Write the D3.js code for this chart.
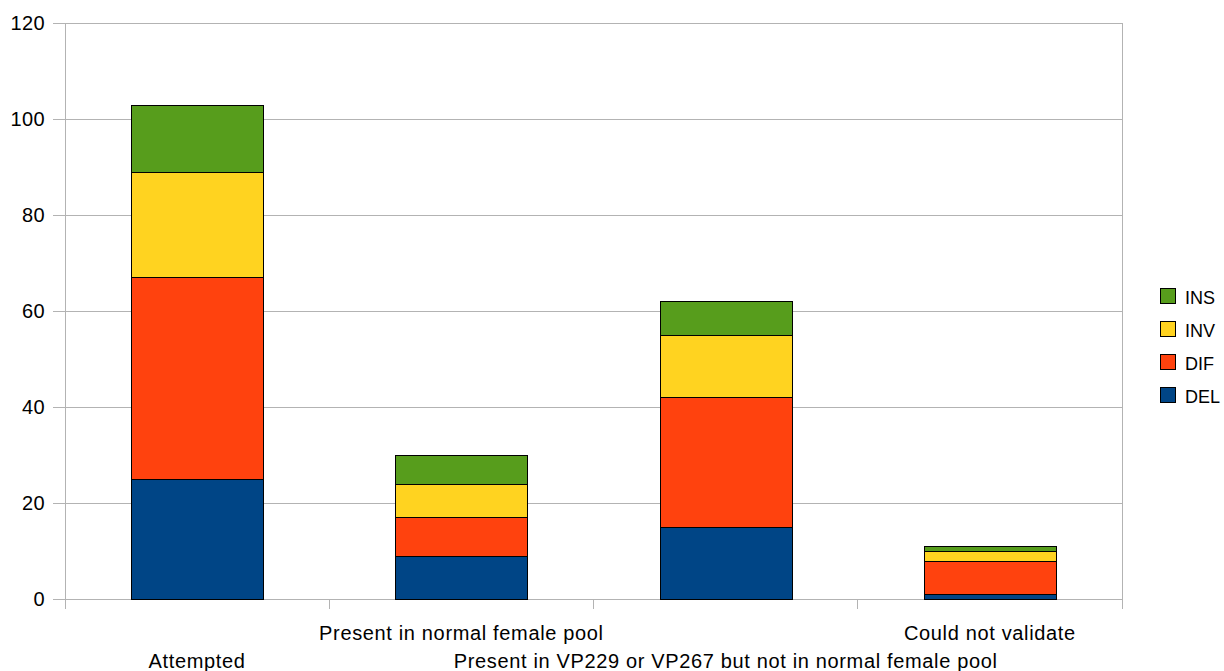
<!DOCTYPE html>
<html>
<head>
<meta charset="utf-8">
<script src="https://cdnjs.cloudflare.com/ajax/libs/d3/7.8.5/d3.min.js"></script>
<style>
  html, body { margin: 0; padding: 0; background: #fff; }
  svg text { font-family: "Liberation Sans", Arial, sans-serif; fill: #000; }
</style>
</head>
<body>
<svg id="chart" width="1224" height="671"></svg>
<script>
// Structural-variant validation counts per outcome, stacked by type
const categories = ["Attempted", "Present in normal female pool", "Present in VP229 or VP267 but not in normal female pool", "Could not validate"];
const seriesNames = ["DEL", "DIF", "INV", "INS"];
const DEL = [25, 9, 15, 1];
const DIF = [42, 8, 27, 7];
const INV = [22, 7, 13, 2];
const INS = [14, 6, 7, 1];
const yTicks = [0, 20, 40, 60, 80, 100, 120];
const colors = { DEL: "#004586", DIF: "#ff420e", INV: "#ffd320", INS: "#579d1c" };

const seriesValues = { DEL, DIF, INV, INS };
const table = categories.map((c, i) => {
  const row = { category: c };
  seriesNames.forEach(s => { row[s] = seriesValues[s][i]; });
  return row;
});

const svg = d3.select("#chart");
const plot = { left: 65, right: 1122, top: 23, bottom: 599 };

const x = d3.scaleBand()
  .domain(categories)
  .range([plot.left, plot.right])
  .paddingInner(0.5)
  .paddingOuter(0.25);

const y = d3.scaleLinear()
  .domain([0, 120])
  .range([plot.bottom, plot.top]);

const grey = "#b3b3b3";

// horizontal grid lines
svg.append("g")
  .selectAll("line")
  .data(yTicks)
  .join("line")
  .attr("x1", plot.left).attr("x2", plot.right)
  .attr("y1", d => y(d)).attr("y2", d => y(d))
  .attr("stroke", grey).attr("stroke-width", 1)
  .attr("shape-rendering", "crispEdges");

// right side of the plot frame
svg.append("line")
  .attr("x1", plot.right).attr("x2", plot.right)
  .attr("y1", plot.top).attr("y2", plot.bottom)
  .attr("stroke", grey).attr("shape-rendering", "crispEdges");

// y axis
const yAxis = svg.append("g")
  .attr("transform", `translate(${plot.left},0)`)
  .call(d3.axisLeft(y).tickValues(yTicks).tickSize(12).tickPadding(8).tickFormat(d3.format("d")));
yAxis.select(".domain").attr("stroke", grey).attr("shape-rendering", "crispEdges");
yAxis.selectAll(".tick line").attr("stroke", grey).attr("shape-rendering", "crispEdges");
yAxis.selectAll(".tick text")
  .attr("font-size", 20)
  .attr("letter-spacing", 0.4)
  .attr("font-family", "Liberation Sans, Arial, sans-serif")
  .attr("fill", "#000");

// x axis: ticks on category boundaries
const step = x.step();
const x0 = x(categories[0]) - x.step() * x.paddingOuter() - x.bandwidth() * 0;
svg.append("g")
  .selectAll("line")
  .data(d3.range(categories.length + 1))
  .join("line")
  .attr("x1", i => plot.left + i * (plot.right - plot.left) / categories.length)
  .attr("x2", i => plot.left + i * (plot.right - plot.left) / categories.length)
  .attr("y1", plot.bottom).attr("y2", plot.bottom + 10)
  .attr("stroke", grey).attr("shape-rendering", "crispEdges");

// stacked bars
const stack = d3.stack().keys(seriesNames);
const layers = stack(table);

svg.append("g")
  .selectAll("g")
  .data(layers)
  .join("g")
  .attr("fill", d => colors[d.key])
  .selectAll("rect")
  .data(d => d)
  .join("rect")
  .attr("x", d => Math.round(x(d.data.category)) + 0.5)
  .attr("width", Math.round(x.bandwidth()))
  .attr("y", d => Math.round(y(d[1])) + 0.5)
  .attr("height", d => Math.round(y(d[0])) - Math.round(y(d[1])))
  .attr("stroke", "#000")
  .attr("stroke-width", 1);

// category labels, staggered over two rows
svg.append("g")
  .selectAll("text")
  .data(categories)
  .join("text")
  .attr("x", d => x(d) + x.bandwidth() / 2)
  .attr("y", (d, i) => i % 2 === 0 ? 668 : 640)
  .attr("text-anchor", "middle")
  .attr("font-size", 20)
  .attr("letter-spacing", 0.65)
  .text(d => d);

// legend, top entry is the top of the stack
const legendItems = seriesNames.slice().reverse();
const legend = svg.append("g").attr("transform", "translate(1160,288)");
const li = legend.selectAll("g")
  .data(legendItems)
  .join("g")
  .attr("transform", (d, i) => `translate(0,${i * 33})`);
li.append("rect")
  .attr("x", 0.5).attr("y", 0.5)
  .attr("width", 15).attr("height", 15)
  .attr("fill", d => colors[d])
  .attr("stroke", "#000");
li.append("text")
  .attr("x", 25).attr("y", 16)
  .attr("font-size", 18)
  .text(d => d);
</script>
</body>
</html>
